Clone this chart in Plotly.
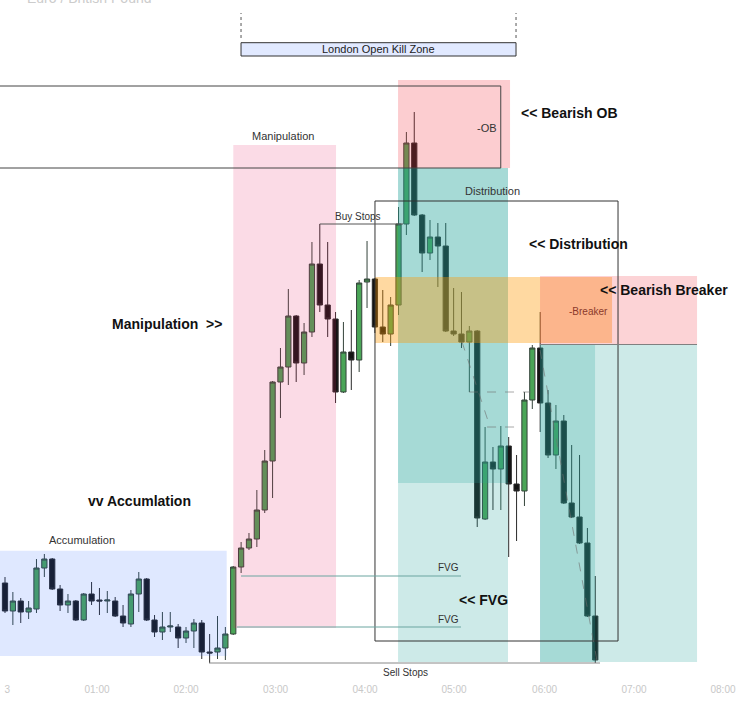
import plotly.graph_objects as go

# ---- data: 5-minute EUR/GBP candles (bar number, OHLC) ----
bar = list(range(76))
open_ = [0.85117, 0.85089, 0.85099, 0.85088, 0.85091, 0.85132, 0.85141, 0.85111, 0.85095, 0.85099,
         0.85080, 0.85106, 0.85100, 0.85099, 0.85099, 0.85084, 0.85076, 0.85106, 0.85121, 0.85080,
         0.85068, 0.85073, 0.85073, 0.85062, 0.85069, 0.85077, 0.85048, 0.85048, 0.85052, 0.85066,
         0.85133, 0.85152, 0.85161, 0.85190, 0.85239, 0.85318, 0.85333, 0.85384, 0.85337, 0.85368,
         0.85436, 0.85395, 0.85381, 0.85308, 0.85348, 0.85340, 0.85418, 0.85421, 0.85373, 0.85366,
         0.85395, 0.85476, 0.85557, 0.85485, 0.85447, 0.85463, 0.85454, 0.85369, 0.85366, 0.85358,
         0.85369, 0.85181, 0.85238, 0.85231, 0.85254, 0.85216, 0.85209, 0.85300, 0.85352, 0.85297,
         0.85245, 0.85279, 0.85197, 0.85183, 0.85157, 0.85084]
high = [0.85123, 0.85108, 0.85102, 0.85099, 0.85141, 0.85146, 0.85142, 0.85115, 0.85106, 0.85100,
        0.85107, 0.85118, 0.85112, 0.85109, 0.85103, 0.85095, 0.85110, 0.85128, 0.85122, 0.85085,
        0.85088, 0.85088, 0.85076, 0.85073, 0.85081, 0.85080, 0.85066, 0.85084, 0.85073, 0.85134,
        0.85158, 0.85167, 0.85210, 0.85250, 0.85319, 0.85352, 0.85411, 0.85385, 0.85377, 0.85458,
        0.85476, 0.85458, 0.85388, 0.85378, 0.85390, 0.85420, 0.85459, 0.85422, 0.85410, 0.85403,
        0.85493, 0.85568, 0.85588, 0.85486, 0.85480, 0.85477, 0.85477, 0.85412, 0.85408, 0.85374,
        0.85370, 0.85273, 0.85253, 0.85274, 0.85263, 0.85245, 0.85308, 0.85355, 0.85388, 0.85310,
        0.85295, 0.85285, 0.85255, 0.85245, 0.85172, 0.85124]
low = [0.85087, 0.85075, 0.85077, 0.85081, 0.85087, 0.85123, 0.85110, 0.85089, 0.85087, 0.85079,
       0.85079, 0.85095, 0.85085, 0.85087, 0.85083, 0.85073, 0.85073, 0.85088, 0.85079, 0.85063,
       0.85060, 0.85068, 0.85052, 0.85057, 0.85052, 0.85041, 0.85037, 0.85041, 0.85040, 0.85065,
       0.85127, 0.85150, 0.85153, 0.85187, 0.85202, 0.85282, 0.85315, 0.85318, 0.85325, 0.85363,
       0.85388, 0.85363, 0.85297, 0.85307, 0.85310, 0.85328, 0.85392, 0.85367, 0.85358, 0.85354,
       0.85385, 0.85465, 0.85484, 0.85428, 0.85440, 0.85413, 0.85368, 0.85364, 0.85352, 0.85308,
       0.85173, 0.85180, 0.85190, 0.85190, 0.85143, 0.85159, 0.85194, 0.85291, 0.85268, 0.85242,
       0.85231, 0.85196, 0.85182, 0.85156, 0.85083, 0.85037]
close = [0.85089, 0.85099, 0.85088, 0.85092, 0.85132, 0.85141, 0.85111, 0.85095, 0.85099, 0.85080,
         0.85106, 0.85099, 0.85099, 0.85100, 0.85084, 0.85077, 0.85106, 0.85121, 0.85080, 0.85068,
         0.85073, 0.85074, 0.85062, 0.85069, 0.85077, 0.85048, 0.85047, 0.85052, 0.85066, 0.85133,
         0.85152, 0.85161, 0.85190, 0.85239, 0.85318, 0.85333, 0.85384, 0.85337, 0.85368, 0.85436,
         0.85395, 0.85381, 0.85308, 0.85348, 0.85340, 0.85417, 0.85421, 0.85373, 0.85366, 0.85395,
         0.85476, 0.85557, 0.85485, 0.85447, 0.85463, 0.85454, 0.85369, 0.85366, 0.85358, 0.85369,
         0.85182, 0.85238, 0.85231, 0.85254, 0.85216, 0.85209, 0.85300, 0.85352, 0.85297, 0.85245,
         0.85279, 0.85197, 0.85183, 0.85157, 0.85084, 0.85040]

hour_labels = ["3", "01:00", "02:00", "03:00", "04:00", "05:00", "06:00", "07:00", "08:00"]
hour_pos = [0.29, 11.69, 23.0, 34.38, 45.74, 57.05, 68.56, 79.92, 91.23]

FONT = "Liberation Sans, Arial, Helvetica, sans-serif"

fig = go.Figure(go.Candlestick(
    x=bar, open=open_, high=high, low=low, close=close,
    increasing=dict(fillcolor="#4aa557", line=dict(color="#34433a", width=1)),
    decreasing=dict(fillcolor="#141414", line=dict(color="#2a2a2a", width=1)),
    whiskerwidth=0, showlegend=False, hoverinfo="skip"))

shapes = []


def rect(x0, x1, y0, y1, fill="rgba(0,0,0,0)", line_color=None, width=1, dash=None):
    shapes.append(dict(type="rect", xref="x", yref="y", x0=x0, x1=x1, y0=y0, y1=y1,
                       fillcolor=fill, layer="above",
                       line=dict(width=width if line_color else 0, color=line_color or "rgba(0,0,0,0)",
                                 dash=dash)))


def seg(x0, y0, x1, y1, color, width=1, dash=None):
    shapes.append(dict(type="line", xref="x", yref="y", x0=x0, y0=y0, x1=x1, y1=y1, layer="above",
                       line=dict(color=color, width=width, dash=dash)))


TEAL = "rgba(38,166,154,0.23)"
# zones
rect(-1.5, 28.17, 0.85044, 0.851493, "rgba(41,98,255,0.15)")          # accumulation
rect(29.01, 42.06, 0.85072, 0.85555, "rgba(233,30,99,0.16)")          # manipulation
rect(49.94, 64.17, 0.85532, 0.85620, "rgba(242,54,69,0.25)")          # bearish OB
rect(49.94, 63.91, 0.85038, 0.85532, TEAL)                             # distribution left
rect(49.94, 63.91, 0.85217, 0.85532, TEAL)
rect(67.98, 87.93, 0.85038, 0.85355, TEAL)                             # distribution right
rect(67.98, 74.97, 0.85038, 0.85355, TEAL)
rect(47.01, 77.13, 0.85357, 0.85423, "rgba(255,152,0,0.37)")          # orange band
rect(67.98, 87.93, 0.853555, 0.85424, "rgba(242,54,69,0.22)")         # breaker
# outlines
rect(-2, 62.99, 0.85532, 0.85614, line_color="#444444")
rect(47.01, 77.89, 0.85059, 0.85499, line_color="#333333")
rect(29.99, 64.93, 0.85644, 0.856573, "rgba(41,98,255,0.14)", line_color="#333333")
# lines
seg(29.99, 0.85662, 29.99, 0.85687, "#555555", 1, "dot")
seg(64.93, 0.85662, 64.93, 0.85687, "#555555", 1, "dot")
seg(40.0, 0.85476, 50.57, 0.85476, "#555555")                       # buy stops
seg(25.92, 0.85037, 75.6, 0.85037, "#888888")                       # sell stops
seg(29.99, 0.85124, 57.94, 0.85124, "#6aa5a0")                      # FVG 1
seg(29.48, 0.85073, 57.94, 0.85073, "#6aa5a0")                      # FVG 2
seg(67.98, 0.853555, 87.93, 0.853555, "#808080")                    # breaker bottom
# dashed path lines
DASH = "rgba(110,110,110,0.6)"
seg(58.96, 0.85308, 66.84, 0.85308, DASH, 1, "dash")
seg(61.25, 0.85273, 65.44, 0.85273, DASH, 1, "dash")
seg(58.07, 0.85358, 61.63, 0.85273, DASH, 1, "dash")
seg(67.98, 0.85350, 75.2, 0.85040, DASH, 1, "dash")

annotations = []


def label(x, y, text, size=11, bold=False, anchor="center", color="#333333", yref="y"):
    annotations.append(dict(x=x, y=y, xref="x", yref=yref, text=f"<b>{text}</b>" if bold else text,
                            showarrow=False, xanchor=anchor, yanchor="middle",
                            font=dict(family=FONT, size=size, color=color)))


label(2.54, 1.0025, "Euro / British Pound", 14, anchor="left", color="#cccccc", yref="paper")
label(47.4, 0.85651, "London Open Kill Zone", 11, color="#222222")
label(35.32, 0.85564, "Manipulation", 11)
label(61.25, 0.85572, "-OB", 11)
label(65.31, 0.85587, "&lt;&lt; Bearish OB", 14, True, "left", "#111111")
label(62.0, 0.85509, "Distribution", 11)
label(44.85, 0.85484, "Buy Stops", 10)
label(66.33, 0.85456, "&lt;&lt; Distribution", 14, True, "left", "#111111")
label(75.35, 0.85410, "&lt;&lt; Bearish Breaker", 14, True, "left", "#111111")
label(74.08, 0.85389, "-Breaker", 10, color="#8b3a2b")
label(13.34, 0.85376, "Manipulation  &gt;&gt;", 14, True, "left", "#111111")
label(10.29, 0.85199, "vv Accumlation", 14, True, "left", "#111111")
label(9.78, 0.85160, "Accumulation", 11)
label(56.29, 0.85133, "FVG", 10)
label(56.29, 0.85081, "FVG", 10)
label(57.43, 0.85100, "&lt;&lt; FVG", 14, True, "left", "#111111")
label(50.95, 0.85028, "Sell Stops", 10)

fig.update_layout(
    width=736, height=701,
    margin=dict(l=0, r=0, t=0, b=19),
    paper_bgcolor="white", plot_bgcolor="white",
    shapes=shapes, annotations=annotations,
    showlegend=False,
    boxgap=0.05,
    xaxis=dict(range=[-0.635, 92.88], showgrid=False, zeroline=False, showline=False,
               rangeslider=dict(visible=False), tickmode="array", tickvals=hour_pos,
               ticktext=hour_labels, ticks="", tickfont=dict(family=FONT, size=10, color="#c8c8c8")),
    yaxis=dict(range=[0.85018, 0.85700], visible=False, showgrid=False, zeroline=False),
)

fig.write_html("out.html", config={"displayModeBar": False},
               post_script="document.body.style.margin='0';document.body.style.overflow='hidden';")
